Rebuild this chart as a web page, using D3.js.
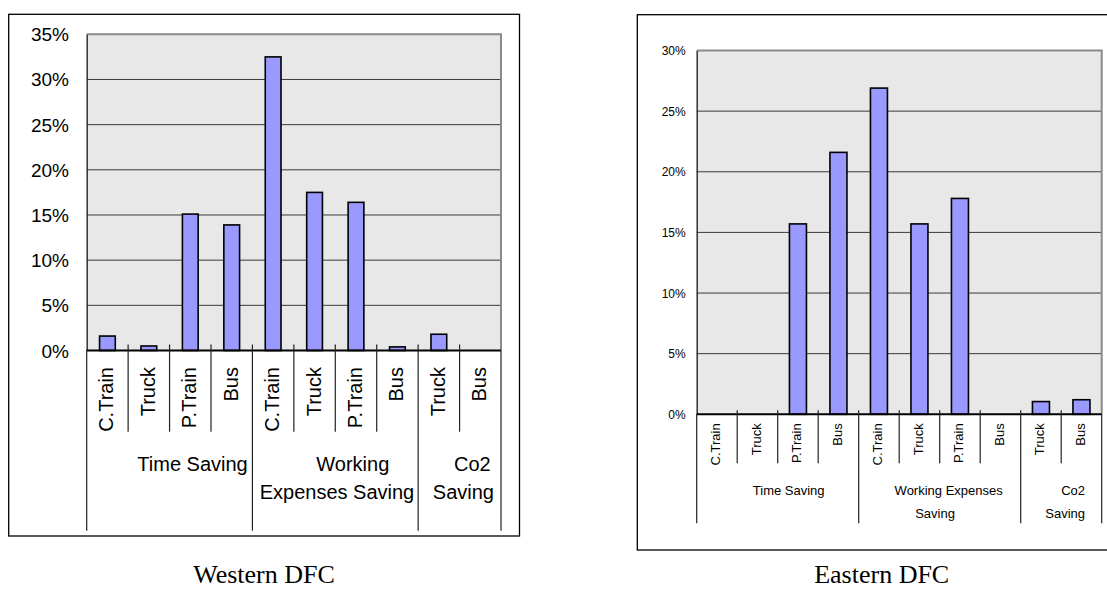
<!DOCTYPE html>
<html>
<head>
<meta charset="utf-8">
<script src="https://cdn.jsdelivr.net/npm/d3@7"></script>
<style>
  html, body { margin: 0; padding: 0; background: #fff; }
  svg { display: block; }
</style>
</head>
<body>
<svg id="chart" width="1107" height="589"></svg>
<script>
// ---------------- DATA ----------------
const categories = ["C.Train","Truck","P.Train","Bus","C.Train","Truck","P.Train","Bus","Truck","Bus"];
const categoryGroup = [0,0,0,0,1,1,1,1,2,2];
const groupNames = ["Time Saving","Working Expenses Saving","Co2 Saving"];
const westernValues = [1.6, 0.5, 15.1, 13.9, 32.5, 17.5, 16.4, 0.4, 1.8, 0];
const easternValues = [0, 0, 15.7, 21.6, 26.9, 15.7, 17.8, 0, 1.05, 1.2];
const westernTicks = [0, 5, 10, 15, 20, 25, 30, 35];
const easternTicks = [0, 5, 10, 15, 20, 25, 30];
const westernGroupLines = [["Time Saving"], ["Working", "Expenses Saving"], ["Co2", "Saving"]];
const easternGroupLines = [["Time Saving"], ["Working Expenses", "Saving"], ["Co2", "Saving"]];
const titles = ["Western DFC", "Eastern DFC"];

// ---------------- DRAW ----------------
const svg = d3.select("#chart");
const SANS = "'Liberation Sans', Arial, sans-serif";

function drawChart(values, ticks, groupLines, title, L) {
  const g = svg.append("g");
  // outer frame
  g.append("rect")
    .attr("x", L.box[0]).attr("y", L.box[1])
    .attr("width", L.box[2] - L.box[0]).attr("height", L.box[3] - L.box[1])
    .attr("fill", "#fff").attr("stroke", "#000").attr("stroke-width", 1.3);

  const idx = d3.range(categories.length);
  const x = d3.scaleBand().domain(idx).range([L.left, L.right]).paddingInner(0).paddingOuter(0);
  const xb = d3.scaleBand().domain(idx).range([L.left, L.right]).paddingInner(L.barPad).paddingOuter(L.barPad / 2);
  const y = d3.scaleLinear().domain([0, d3.max(ticks)]).range([L.bottom, L.top]);

  // plot background
  g.append("rect")
    .attr("x", L.left).attr("y", L.top)
    .attr("width", L.right - L.left).attr("height", L.bottom - L.top)
    .attr("fill", "#e8e8e8");

  // gridlines
  g.append("g").selectAll("line").data(ticks.filter(t => t > 0 && t < d3.max(ticks))).join("line")
    .attr("x1", L.left).attr("x2", L.right)
    .attr("y1", d => y(d)).attr("y2", d => y(d))
    .attr("stroke", "#3a3a3a").attr("stroke-width", 1);

  // top/right border
  g.append("path")
    .attr("d", `M${L.left},${y(d3.max(ticks))}H${L.right}V${L.bottom}`)
    .attr("fill", "none").attr("stroke", "#8a8a8a").attr("stroke-width", 2);

  // y axis with labels
  const yAxis = d3.axisLeft(y).tickValues(ticks).tickSize(0).tickPadding(L.left - L.labelRight)
    .tickFormat(d => d + "%");
  const ya = g.append("g").attr("transform", `translate(${L.left},0)`).call(yAxis);
  ya.select(".domain").attr("stroke", "#333").attr("stroke-width", 1.5);
  ya.selectAll("text")
    .attr("font-family", SANS).attr("font-size", L.yFont).attr("fill", "#000")
    .attr("dy", null).attr("dominant-baseline", "central");

  // bars
  g.append("g").selectAll("rect").data(idx.filter(i => values[i] > 0)).join("rect")
    .attr("x", i => xb(i)).attr("width", xb.bandwidth())
    .attr("y", i => y(values[i])).attr("height", i => y(0) - y(values[i]))
    .attr("fill", "#9999ff").attr("stroke", "#000").attr("stroke-width", 1.6);

  // baseline axis
  g.append("line")
    .attr("x1", L.left).attr("x2", L.right)
    .attr("y1", y(0)).attr("y2", y(0))
    .attr("stroke", "#000").attr("stroke-width", 2);

  // category separators
  const bounds = d3.range(categories.length + 1);
  const bx = i => (i < categories.length ? x(i) : L.right);
  const isGroupBound = i => i === 0 || i === categories.length || categoryGroup[i] !== categoryGroup[i - 1];
  g.append("g").selectAll("line").data(bounds).join("line")
    .attr("x1", bx).attr("x2", bx)
    .attr("y1", i => (i === 0 || i === categories.length) ? y(0) : y(0) - L.tickUp)
    .attr("y2", i => isGroupBound(i) ? L.groupBottom : L.catBottom)
    .attr("stroke", "#222").attr("stroke-width", 1.2);

  // category labels (rotated)
  g.append("g").selectAll("text").data(idx).join("text")
    .attr("transform", i => `translate(${x(i) + x.bandwidth() / 2 + L.catDx},${L.catTop}) rotate(-90)`)
    .attr("text-anchor", "end").attr("dominant-baseline", "central")
    .attr("font-family", SANS).attr("font-size", L.catFont).attr("fill", "#000")
    .text(i => categories[i]);

  // group labels
  groupNames.forEach((name, gi) => {
    const members = idx.filter(i => categoryGroup[i] === gi);
    const gl = x(members[0]);
    const gr = x(members[members.length - 1]) + x.bandwidth();
    const gc = (gl + gr) / 2;
    groupLines[gi].forEach((line, li) => {
      const spec = L.groupPos[gi][li];
      const t = g.append("text")
        .attr("y", L.groupRows[li])
        .attr("font-family", SANS).attr("font-size", L.groupFont).attr("fill", "#000")
        .text(line);
      if (spec.anchor === "end") t.attr("x", gr + spec.dx).attr("text-anchor", "end");
      else t.attr("x", gc + spec.dx).attr("text-anchor", "middle");
    });
  });

  // title
  svg.append("text")
    .attr("x", L.titleX).attr("y", L.titleY)
    .attr("text-anchor", "middle")
    .attr("font-family", "'Liberation Serif', 'Times New Roman', serif")
    .attr("font-size", 26).attr("fill", "#000")
    .text(title);
}

drawChart(westernValues, westernTicks, westernGroupLines, titles[0], {
  box: [8.7, 14.3, 519.5, 536],
  left: 86.7, right: 501, top: 34.3, bottom: 350.5,
  labelRight: 69, yFont: 19,
  barPad: 0.62,
  tickUp: 6, catBottom: 431.7, groupBottom: 530.7,
  catTop: 367, catFont: 20, catDx: -1,
  groupFont: 20, groupRows: [470.5, 498.9],
  groupPos: [
    [{anchor: "end", dx: -4.7}],
    [{anchor: "middle", dx: 17.5}, {anchor: "middle", dx: 1.7}],
    [{anchor: "end", dx: -10.3}, {anchor: "end", dx: -7}]
  ],
  titleX: 264, titleY: 583
});

drawChart(easternValues, easternTicks, easternGroupLines, titles[1], {
  box: [637.3, 14.7, 1112, 550],
  left: 696.7, right: 1101.7, top: 50.5, bottom: 414.3,
  labelRight: 685.7, yFont: 12,
  barPad: 0.58,
  tickUp: 4, catBottom: 463.3, groupBottom: 523.3,
  catTop: 423.3, catFont: 13, catDx: -1,
  groupFont: 13, groupRows: [495.4, 518],
  groupPos: [
    [{anchor: "middle", dx: 11}],
    [{anchor: "middle", dx: 9}, {anchor: "middle", dx: -4.7}],
    [{anchor: "end", dx: -16.7}, {anchor: "end", dx: -16.7}]
  ],
  titleX: 881.7, titleY: 583
});
</script>
</body>
</html>
